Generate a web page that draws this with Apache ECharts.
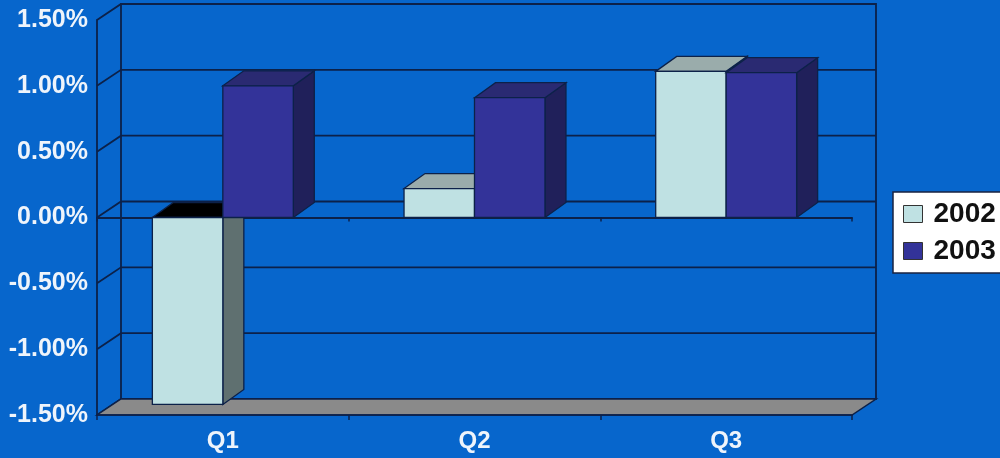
<!DOCTYPE html>
<html>
<head>
<meta charset="utf-8">
<script src="https://cdn.jsdelivr.net/npm/echarts@6/dist/echarts.min.js"></script>
<style>
  html, body { margin: 0; padding: 0; background: #0766cc; }
  #chart { width: 1000px; height: 458px; }
</style>
</head>
<body>
<div id="chart"></div>
<script>
// Quarterly growth, percent
const quarters = ['Q1', 'Q2', 'Q3'];
const seriesNames = ['2002', '2003'];
const growth2002 = [-1.42, 0.22, 1.11];
const growth2003 = [1.00, 0.91, 1.10];
const yTicks = [-1.5, -1.0, -0.5, 0, 0.5, 1.0, 1.5];

// Oblique depth of the plot box and of each column
const WALL_DX = 24, WALL_DY = -16;
const BAR_DX = 21, BAR_DY = -15;
const BAR_FRACTION = 0.28;
const LINE = '#0c2149';
const BG = '#0766cc';
const TEXT = '#eef4fb';

const palette = {
  '2002': { front: '#bfe1e3', top: '#9aacab', side: '#5f7070' },
  '2003': { front: '#333399', top: '#2a2a72', side: '#20205a' }
};

// Back wall, side wall, floor and the gridlines drawn on them
function renderWalls(params, api) {
  const cs = params.coordSys;
  const L = cs.x, R = cs.x + cs.width;
  const yTop = api.coord([0, yTicks[yTicks.length - 1]])[1];
  const yBot = api.coord([0, yTicks[0]])[1];
  const children = [];
  children.push({
    type: 'polygon',
    shape: { points: [[L, yBot], [L + WALL_DX, yBot + WALL_DY], [L + WALL_DX, yTop + WALL_DY], [L, yTop]] },
    style: { fill: BG }
  });
  yTicks.forEach(function (t) {
    const y = api.coord([0, t])[1];
    children.push({
      type: 'polyline',
      shape: { points: [[L, y], [L + WALL_DX, y + WALL_DY], [R + WALL_DX, y + WALL_DY]] },
      style: { stroke: LINE, lineWidth: 1.8, fill: null }
    });
  });
  children.push({
    type: 'rect',
    shape: { x: L + WALL_DX, y: yTop + WALL_DY, width: R - L, height: yBot - yTop },
    style: { fill: null, stroke: LINE, lineWidth: 1.8 }
  });
  children.push({
    type: 'polygon',
    shape: { points: [[L, yBot], [L + WALL_DX, yBot + WALL_DY], [R + WALL_DX, yBot + WALL_DY], [R, yBot]] },
    style: { fill: '#8a8a8a', stroke: LINE, lineWidth: 1.5 }
  });
  return { type: 'group', children: children };
}

// 3D column: side face, top face, front face
function columnRenderer(slot, colors) {
  return function (params, api) {
    const i = api.value(0), v = api.value(1);
    const band = api.size([1, 0])[0];
    const w = band * BAR_FRACTION;
    const base = api.coord([i, 0]);
    const tip = api.coord([i, v]);
    const x = base[0] - w + slot * w;
    const yt = Math.min(base[1], tip[1]);
    const yb = Math.max(base[1], tip[1]);
    const topFill = v < 0 ? '#000000' : colors.top;
    const st = { stroke: LINE, lineWidth: 1.3 };
    return {
      type: 'group',
      children: [
        { type: 'polygon',
          shape: { points: [[x + w, yt], [x + w + BAR_DX, yt + BAR_DY], [x + w + BAR_DX, yb + BAR_DY], [x + w, yb]] },
          style: Object.assign({ fill: colors.side }, st) },
        { type: 'polygon',
          shape: { points: [[x, yt], [x + BAR_DX, yt + BAR_DY], [x + w + BAR_DX, yt + BAR_DY], [x + w, yt]] },
          style: Object.assign({ fill: topFill }, st) },
        { type: 'rect',
          shape: { x: x, y: yt, width: w, height: yb - yt },
          style: Object.assign({ fill: colors.front }, st) }
      ]
    };
  };
}

const chart = echarts.init(document.getElementById('chart'), null, { renderer: 'canvas' });

chart.setOption({
  backgroundColor: BG,
  animation: false,
  textStyle: { fontFamily: 'Liberation Sans, Arial, sans-serif' },
  grid: { left: 97, right: 148, top: 20, bottom: 43 },
  legend: {
    data: seriesNames,
    orient: 'vertical',
    left: 893,
    top: 192,
    backgroundColor: '#ffffff',
    borderColor: '#1a2340',
    borderWidth: 1.5,
    borderRadius: 0,
    padding: [8, 20, 8, 10],
    itemGap: 9,
    itemWidth: 19,
    itemHeight: 17,
    icon: 'rect',
    itemStyle: { borderColor: '#333333', borderWidth: 1 },
    textStyle: { fontSize: 28, fontWeight: 'bold', color: '#111111', padding: [0, 0, 0, 6] }
  },
  xAxis: [
    {
      type: 'category',
      data: quarters,
      position: 'bottom',
      z: 1,
      axisLine: { onZero: false, lineStyle: { color: LINE, width: 1.5 } },
      axisTick: { show: true, length: 5, lineStyle: { color: LINE, width: 1.5 } },
      axisLabel: { color: TEXT, fontSize: 24, fontWeight: 'bold', margin: 14 },
      splitLine: { show: false }
    },
    {
      type: 'category',
      data: quarters,
      position: 'bottom',
      z: 1,
      axisLine: { onZero: true, lineStyle: { color: LINE, width: 1.8 } },
      axisTick: { show: true, length: 4, lineStyle: { color: LINE, width: 1.5 } },
      axisLabel: { show: false },
      splitLine: { show: false }
    }
  ],
  yAxis: {
    type: 'value',
    min: yTicks[0],
    max: yTicks[yTicks.length - 1],
    interval: 0.5,
    z: 1,
    axisLine: { show: true, lineStyle: { color: LINE, width: 1.8 } },
    axisTick: { show: false },
    splitLine: { show: false },
    axisLabel: {
      color: TEXT, fontSize: 25, fontWeight: 'bold', margin: 9,
      formatter: function (v) { return v.toFixed(2) + '%'; }
    }
  },
  series: [
    {
      type: 'custom',
      name: 'walls',
      silent: true,
      z: 0,
      renderItem: renderWalls,
      data: [[0, 0]]
    },
    {
      type: 'custom',
      name: '2002',
      z: 2,
      itemStyle: { color: palette['2002'].front },
      renderItem: columnRenderer(0, palette['2002']),
      data: quarters.map(function (q, i) { return [i, growth2002[i]]; })
    },
    {
      type: 'custom',
      name: '2003',
      z: 3,
      itemStyle: { color: palette['2003'].front },
      renderItem: columnRenderer(1, palette['2003']),
      data: quarters.map(function (q, i) { return [i, growth2003[i]]; })
    }
  ]
});
</script>
</body>
</html>
